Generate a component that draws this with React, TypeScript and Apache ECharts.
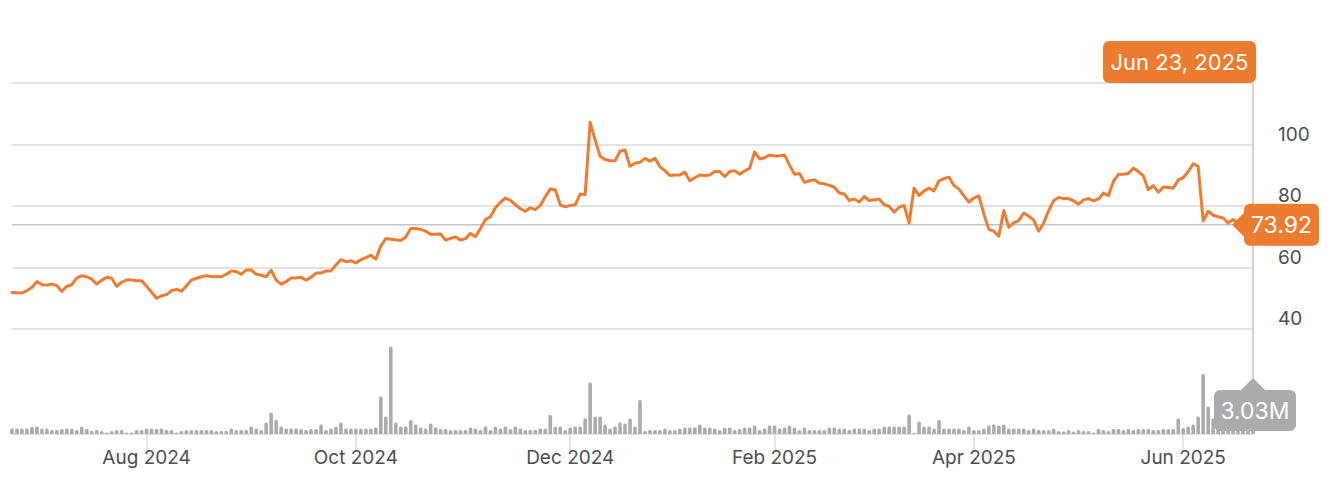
import React, { useEffect, useRef } from "react";
import * as echarts from "echarts";

const HOLIDAYS = [
  "2024-07-04", "2024-09-02", "2024-11-28", "2024-12-25", "2025-01-01",
  "2025-01-09", "2025-01-20", "2025-02-17", "2025-04-18", "2025-05-26", "2025-06-19",
];
const START = [2024, 5, 24];
const END = [2025, 5, 23];
const MONTHS = ["Jan", "Feb", "Mar", "Apr", "May", "Jun", "Jul", "Aug", "Sep", "Oct", "Nov", "Dec"];
const TICK_LABELS = ["Aug 2024", "Oct 2024", "Dec 2024", "Feb 2025", "Apr 2025", "Jun 2025"];
const PRICE_TICKS = [40, 60, 80, 100];

const PRICES = [
  51.9, 51.8, 51.7, 52.5, 53.5, 55.4, 54.4, 54.3, 54.6, 54.1,
  52.2, 53.9, 54.4, 56.6, 57.3, 57.0, 56.2, 54.6, 55.9, 56.8,
  56.5, 53.9, 55.2, 56.0, 55.9, 55.7, 55.7, 53.9, 52.0, 50.0,
  50.8, 51.2, 52.5, 52.9, 52.3, 54.1, 55.9, 56.5, 57.0, 57.3,
  57.1, 57.0, 57.0, 57.8, 58.9, 58.7, 57.8, 59.2, 59.2, 57.8,
  57.5, 57.0, 59.1, 55.9, 54.6, 55.4, 56.6, 56.6, 56.8, 55.9,
  56.8, 58.2, 58.2, 58.9, 58.9, 60.8, 62.6, 61.9, 62.2, 61.5,
  62.5, 63.2, 64.0, 62.7, 67.0, 69.4, 69.2, 69.0, 68.8, 69.9,
  72.7, 72.7, 72.4, 71.8, 70.8, 70.8, 70.9, 68.9, 69.5, 69.9,
  68.9, 69.4, 71.1, 70.0, 72.7, 75.6, 76.5, 79.4, 81.2, 82.6,
  81.8, 80.4, 79.1, 78.3, 79.4, 78.8, 80.2, 83.0, 85.5, 85.3,
  80.4, 79.7, 80.2, 80.4, 83.9, 83.7, 107.2, 101.5, 96.2, 95.1,
  94.7, 94.7, 97.8, 98.2, 92.9, 93.9, 94.2, 95.5, 94.6, 95.5,
  92.8, 91.5, 89.9, 90.1, 90.1, 91.0, 88.2, 89.2, 90.1, 89.9,
  90.1, 91.2, 91.2, 89.6, 91.2, 91.5, 90.3, 91.4, 92.3, 97.6,
  95.3, 95.7, 96.6, 96.3, 96.3, 96.6, 93.3, 90.3, 90.6, 87.7,
  88.2, 88.5, 87.4, 87.2, 86.7, 86.1, 84.2, 83.9, 81.8, 82.3,
  81.3, 83.1, 81.8, 82.0, 82.3, 80.4, 79.9, 78.0, 79.6, 80.2,
  74.5, 85.8, 83.4, 84.9, 85.8, 84.9, 88.2, 88.9, 89.4, 86.7,
  85.5, 83.3, 81.3, 82.6, 83.3, 77.4, 72.4, 71.8, 70.2, 78.5,
  73.1, 74.5, 75.3, 77.7, 76.7, 75.4, 71.8, 74.5, 78.5, 81.7,
  82.8, 82.4, 82.4, 81.7, 80.6, 82.0, 82.4, 81.7, 82.3, 84.2,
  83.4, 88.0, 90.3, 90.3, 90.6, 92.3, 91.2, 89.8, 85.3, 86.6,
  84.5, 86.2, 86.0, 85.8, 88.5, 89.2, 91.2, 93.7, 92.9, 75.1,
  78.3, 77.0, 76.5, 76.1, 74.5, 75.6, 74.5, 74.2, 73.8, 73.92,
];

// daily volume, millions of shares
const VOLUMES_M = [
  1.1, 1.1, 1.1, 1.1, 1.4, 1.5, 1.1, 1.1, 0.8, 0.8,
  1.0, 1.1, 1.1, 0.8, 1.5, 1.0, 0.6, 0.8, 0.6, 0.3,
  0.6, 0.8, 0.8, 0.3, 0.3, 0.8, 0.8, 1.1, 1.1, 1.0,
  1.1, 0.8, 0.8, 0.3, 0.6, 0.8, 0.8, 0.8, 0.8, 0.8,
  0.8, 0.6, 0.6, 0.6, 1.1, 0.8, 0.8, 0.8, 1.5, 1.1,
  0.8, 2.3, 4.3, 2.8, 1.5, 1.1, 1.1, 1.1, 1.0, 0.8,
  1.0, 1.0, 1.9, 0.8, 1.1, 1.5, 2.3, 1.1, 1.1, 1.1,
  1.1, 1.1, 1.1, 1.3, 7.5, 3.5, 17.5, 2.3, 1.5, 1.5,
  2.8, 1.9, 1.3, 1.1, 2.1, 1.3, 1.0, 1.0, 0.8, 0.8,
  0.8, 0.8, 1.3, 1.1, 0.8, 1.5, 0.8, 1.5, 1.1, 1.5,
  1.0, 1.5, 1.1, 0.8, 0.8, 0.8, 1.1, 1.1, 3.8, 1.5,
  1.5, 0.8, 1.3, 1.5, 1.5, 3.1, 10.3, 3.5, 3.5, 1.9,
  1.1, 1.5, 2.3, 2.1, 3.1, 1.5, 6.8, 0.6, 0.8, 0.8,
  0.8, 1.1, 0.8, 0.8, 1.1, 1.3, 1.3, 1.3, 1.9, 1.3,
  1.3, 1.1, 0.8, 1.3, 1.3, 0.8, 1.0, 1.3, 1.3, 1.7,
  0.8, 1.1, 1.7, 1.7, 1.1, 1.3, 1.7, 1.3, 0.8, 1.3,
  0.8, 0.8, 0.8, 0.8, 1.3, 1.3, 1.1, 1.1, 0.8, 1.1,
  1.1, 1.1, 0.8, 1.1, 1.1, 1.5, 1.5, 1.5, 1.5, 1.5,
  3.9, 0.2, 2.5, 1.5, 1.5, 1.1, 2.8, 1.1, 1.1, 1.1,
  1.1, 0.8, 1.5, 0.8, 0.8, 1.1, 1.7, 1.9, 1.7, 1.9,
  1.1, 1.1, 1.1, 1.1, 0.8, 1.1, 0.8, 0.8, 0.8, 1.1,
  0.6, 0.5, 0.8, 0.5, 0.8, 0.6, 0.6, 0.3, 1.0, 0.8,
  0.6, 1.0, 1.0, 0.8, 1.0, 0.8, 1.0, 1.0, 1.0, 0.8,
  0.8, 1.0, 1.0, 1.0, 3.1, 1.2, 1.5, 1.9, 3.5, 12.0,
  5.5, 3.1, 2.4, 1.8, 2.0, 1.7, 1.6, 1.9, 1.8, 3.03,
];

function buildTradingDays(): string[] {
  const out: string[] = [];
  let t = Date.UTC(START[0], START[1], START[2]);
  const end = Date.UTC(END[0], END[1], END[2]);
  while (t <= end) {
    const d = new Date(t);
    const wd = d.getUTCDay();
    const iso = d.toISOString().slice(0, 10);
    if (wd !== 0 && wd !== 6 && !HOLIDAYS.includes(iso)) out.push(iso);
    t += 86400000;
  }
  return out;
}
const DATES = buildTradingDays();

const monthLabel = (iso: string) => {
  const [y, m] = iso.split("-");
  return `${MONTHS[Number(m) - 1]} ${y}`;
};
const fullLabel = (iso: string) => {
  const [y, m, d] = iso.split("-");
  return `${MONTHS[Number(m) - 1]} ${Number(d)}, ${y}`;
};
const isTick = (i: number) =>
  i > 0 &&
  DATES[i].slice(0, 7) !== DATES[i - 1].slice(0, 7) &&
  TICK_LABELS.includes(monthLabel(DATES[i]));

const ORANGE = "#EE7C30";
const GREY_BOX = "#ababab";
const FONT = "Inter, 'Liberation Sans', Arial, sans-serif";
const TEXT = "#4d4d4d";

export default function App() {
  const ref = useRef<HTMLDivElement>(null);
  useEffect(() => {
    const chart = echarts.init(ref.current!, null, { renderer: "svg" });
    const last = DATES.length - 1;
    chart.setOption({
      animation: false,
      backgroundColor: "#ffffff",
      grid: [
        { left: 12, right: 85, top: 83, bottom: 165 },
        { left: 12, right: 85, top: 334, bottom: 60 },
      ],
      xAxis: [
        {
          type: "category", gridIndex: 0, data: DATES, boundaryGap: false,
          axisLine: { show: false }, axisTick: { show: false },
          axisLabel: { show: false }, splitLine: { show: false },
        },
        {
          type: "category", gridIndex: 1, data: DATES, boundaryGap: false,
          axisLine: { lineStyle: { color: "#dcdcdc", width: 1.5 } },
          axisTick: { interval: (i: number) => isTick(i), length: 18, lineStyle: { color: "#dcdcdc", width: 1.5 } },
          axisLabel: {
            interval: (i: number) => isTick(i),
            formatter: (v: string) => monthLabel(v),
            color: TEXT, fontSize: 19, fontFamily: FONT, margin: 14,
          },
          splitLine: { show: false },
        },
      ],
      yAxis: [
        {
          type: "value", gridIndex: 0, position: "right", min: 40, max: 120, interval: 20,
          axisLine: { show: false }, axisTick: { show: false },
          splitLine: { lineStyle: { color: "#dadada", width: 1.5 } },
          axisLabel: {
            margin: 25, color: TEXT, fontSize: 19, fontFamily: FONT, verticalAlign: "bottom",
            padding: [0, 0, 1, 0],
            formatter: (v: number) => (PRICE_TICKS.includes(v) ? String(v) : ""),
          },
        },
        { type: "value", gridIndex: 1, min: 0, max: 20, show: false },
      ],
      series: [
        {
          type: "line", xAxisIndex: 0, yAxisIndex: 0, data: PRICES,
          showSymbol: false, symbol: "none", z: 3,
          lineStyle: { color: ORANGE, width: 3, join: "round", cap: "round" },
        },
        {
          type: "bar", xAxisIndex: 1, yAxisIndex: 1, data: VOLUMES_M,
          barWidth: 3.6, itemStyle: { color: "#ababab", borderRadius: [1.5, 1.5, 0, 0] },
        },
      ],
    });

    const [lx, ly] = chart.convertToPixel({ xAxisIndex: 0, yAxisIndex: 0 }, [last, PRICES[last]]) as number[];
    const gTop = chart.convertToPixel({ yAxisIndex: 0 }, 120) as number;
    const gLeft = chart.convertToPixel({ xAxisIndex: 0 }, 0) as number;
    const vBase = chart.convertToPixel({ yAxisIndex: 1 }, 0) as number;

    const txt = (text: string, x: number, y: number, size: number) => ({
      type: "text", z: 12,
      style: {
        text, x, y, fill: "#ffffff", fontSize: size, fontFamily: FONT,
        align: "center", verticalAlign: "middle", textAlign: "center", textVerticalAlign: "middle",
      },
    });

    chart.setOption({
      graphic: [
        { type: "line", z: 1, shape: { x1: gLeft, y1: ly, x2: lx, y2: ly }, style: { stroke: "#c4c4c4", lineWidth: 1.5 } },
        { type: "line", z: 1, shape: { x1: lx, y1: gTop, x2: lx, y2: vBase - 56 }, style: { stroke: "#c4c4c4", lineWidth: 1.5 } },
        { type: "rect", z: 11, shape: { x: lx + 3 - 153, y: gTop - 42, width: 153, height: 42, r: 6 }, style: { fill: ORANGE } },
        txt(fullLabel(DATES[last]), lx + 3 - 76.5, gTop - 21, 22),
        { type: "polygon", z: 11, shape: { points: [[lx - 8, ly - 13], [lx - 21, ly], [lx - 8, ly + 13]] }, style: { fill: ORANGE } },
        { type: "rect", z: 11, shape: { x: lx - 9, y: ly - 21, width: 75, height: 42, r: 6 }, style: { fill: ORANGE } },
        txt(PRICES[last].toFixed(2), lx + 28.5, ly, 23),
        { type: "polygon", z: 11, shape: { points: [[lx - 13, vBase - 43], [lx, vBase - 56], [lx + 13, vBase - 43]] }, style: { fill: GREY_BOX } },
        { type: "rect", z: 11, shape: { x: lx - 39, y: vBase - 44, width: 82, height: 41, r: 6 }, style: { fill: GREY_BOX } },
        txt(`${VOLUMES_M[last].toFixed(2)}M`, lx + 2, vBase - 23.5, 23),
      ],
    });

    return () => chart.dispose();
  }, []);

  return (
    <div
      ref={ref}
      style={{ position: "fixed", left: 0, top: 0, width: 1338, height: 494, background: "#fff" }}
    />
  );
}
